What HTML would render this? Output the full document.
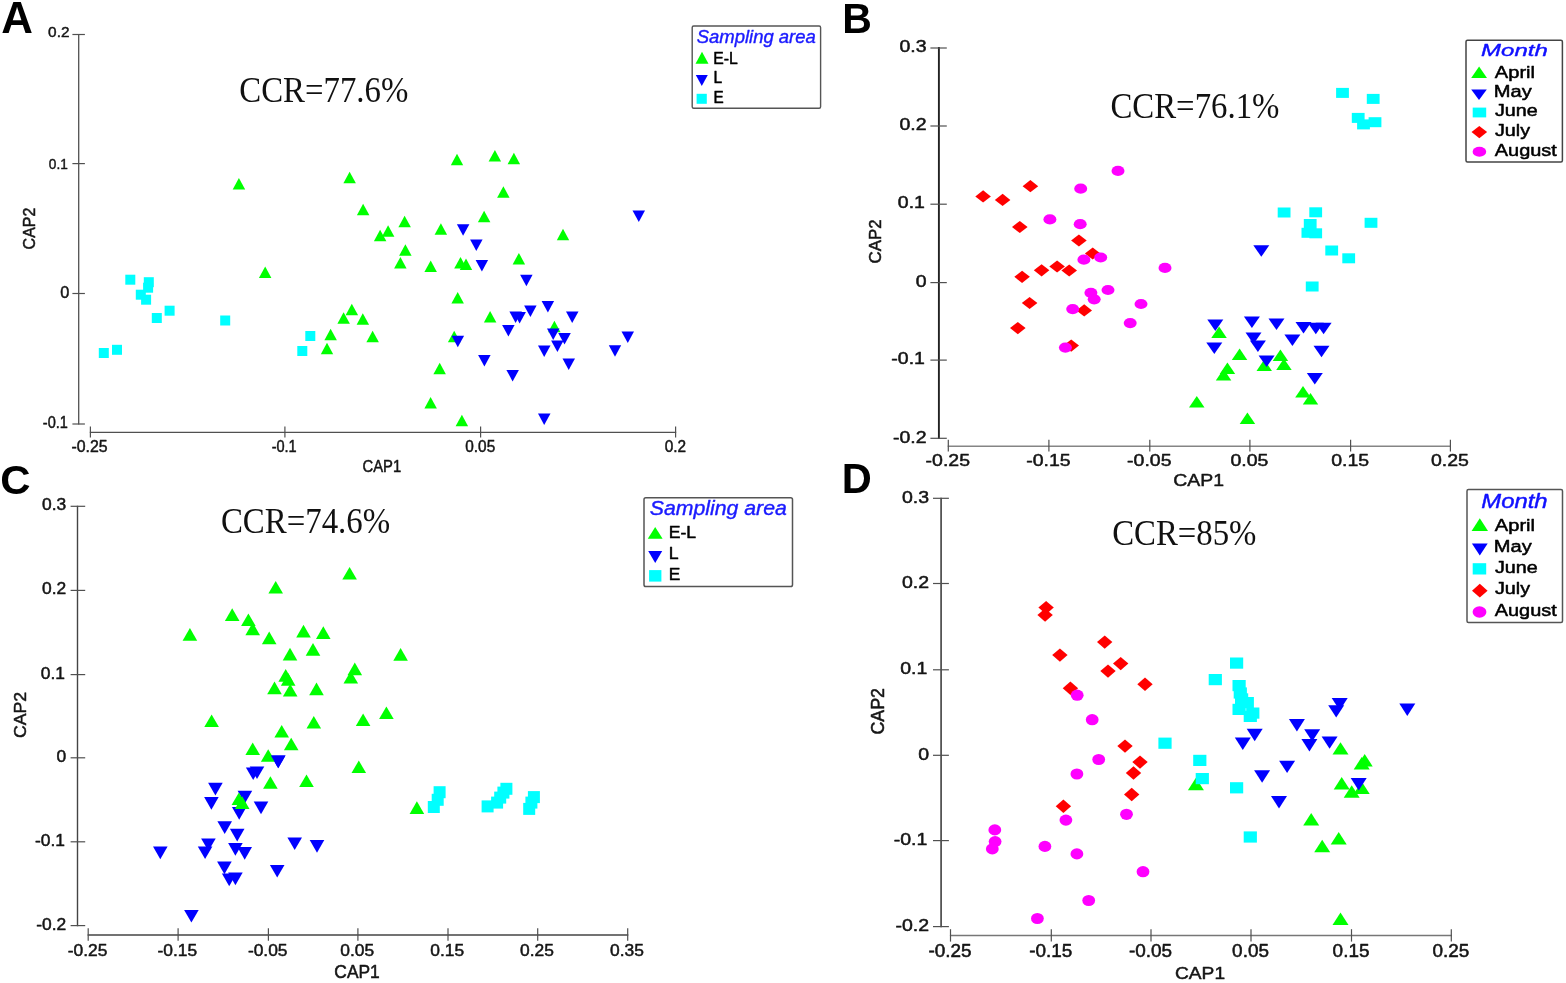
<!DOCTYPE html>
<html lang="en"><head><meta charset="utf-8"><title>CAP ordination plots</title>
<style>html,body{margin:0;padding:0;background:#fff}svg{display:block}</style></head><body>
<svg width="1566" height="983" viewBox="0 0 1566 983">
<rect width="1566" height="983" fill="#fff"/>
<g id="panelA">
<text font-family='"Liberation Sans", Arial, sans-serif' font-size="42" fill="#000" transform="translate(1.20 32.70) scale(1.0448 1.0459)" font-weight="bold">A</text>
<line x1="78.7" y1="34.0" x2="78.7" y2="424.5" stroke="#505050" stroke-width="1.3"/>
<line x1="72.4" y1="34.5" x2="84.9" y2="34.5" stroke="#505050" stroke-width="1.2"/>
<text font-family='"Liberation Sans", Arial, sans-serif' font-size="15" fill="#151515" transform="translate(48.08 37.00) scale(1.0256 1.0323)" stroke="#151515" stroke-width="0.45" stroke-linejoin="round">0.2</text>
<line x1="72.4" y1="163.6" x2="84.9" y2="163.6" stroke="#505050" stroke-width="1.2"/>
<text font-family='"Liberation Sans", Arial, sans-serif' font-size="15" fill="#151515" transform="translate(48.85 168.70) scale(0.9111 1.0323)" stroke="#151515" stroke-width="0.45" stroke-linejoin="round">0.1</text>
<line x1="72.4" y1="293.5" x2="84.9" y2="293.5" stroke="#505050" stroke-width="1.2"/>
<text font-family='"Liberation Sans", Arial, sans-serif' font-size="15" fill="#151515" transform="translate(60.35 297.70) scale(1.0890 1.0418)" stroke="#151515" stroke-width="0.45" stroke-linejoin="round">0</text>
<line x1="72.4" y1="424.0" x2="84.9" y2="424.0" stroke="#505050" stroke-width="1.2"/>
<text font-family='"Liberation Sans", Arial, sans-serif' font-size="15" fill="#151515" transform="translate(42.85 427.60) scale(0.9693 1.0418)" stroke="#151515" stroke-width="0.45" stroke-linejoin="round">-0.1</text>
<line x1="89.8" y1="432.3" x2="676.2" y2="432.3" stroke="#505050" stroke-width="1.3"/>
<line x1="90.4" y1="426.4" x2="90.4" y2="437.6" stroke="#505050" stroke-width="1.2"/>
<text font-family='"Liberation Sans", Arial, sans-serif' font-size="15" fill="#151515" transform="translate(71.49 452.10) scale(1.0582 1.0514)" stroke="#151515" stroke-width="0.45" stroke-linejoin="round">-0.25</text>
<line x1="284.9" y1="426.4" x2="284.9" y2="437.6" stroke="#505050" stroke-width="1.2"/>
<text font-family='"Liberation Sans", Arial, sans-serif' font-size="15" fill="#151515" transform="translate(271.65 452.10) scale(0.9693 1.0514)" stroke="#151515" stroke-width="0.45" stroke-linejoin="round">-0.1</text>
<line x1="480.6" y1="426.4" x2="480.6" y2="437.6" stroke="#505050" stroke-width="1.2"/>
<text font-family='"Liberation Sans", Arial, sans-serif' font-size="15" fill="#151515" transform="translate(465.28 452.10) scale(1.0259 1.0514)" stroke="#151515" stroke-width="0.45" stroke-linejoin="round">0.05</text>
<line x1="675.6" y1="426.4" x2="675.6" y2="437.6" stroke="#505050" stroke-width="1.2"/>
<text font-family='"Liberation Sans", Arial, sans-serif' font-size="15" fill="#151515" transform="translate(664.78 452.10) scale(1.0256 1.0514)" stroke="#151515" stroke-width="0.45" stroke-linejoin="round">0.2</text>
<text font-family='"Liberation Sans", Arial, sans-serif' font-size="15" fill="#151515" transform="translate(362.46 472.10) scale(0.9897 1.0800)" stroke="#151515" stroke-width="0.45" stroke-linejoin="round">CAP1</text>
<text font-family='"Liberation Sans", Arial, sans-serif' font-size="15" fill="#151515" transform="translate(34.80 249.40) rotate(-90) scale(1.0651 1.1470)" stroke="#151515" stroke-width="0.45" stroke-linejoin="round">CAP2</text>
<text font-family='"Liberation Serif", "Times New Roman", serif' font-size="32" fill="#111" transform="translate(239.29 101.70) scale(1.0265 1.0996)">CCR=77.6%</text>
<rect x="125.3" y="274.7" width="10" height="10" fill="#00ffff"/>
<rect x="143.8" y="277.2" width="10" height="10" fill="#00ffff"/>
<rect x="143.1" y="282.7" width="10" height="10" fill="#00ffff"/>
<rect x="135.8" y="289.7" width="10" height="10" fill="#00ffff"/>
<rect x="141.1" y="294.7" width="10" height="10" fill="#00ffff"/>
<rect x="164.6" y="305.7" width="10" height="10" fill="#00ffff"/>
<rect x="151.8" y="313.0" width="10" height="10" fill="#00ffff"/>
<rect x="220.2" y="315.5" width="10" height="10" fill="#00ffff"/>
<rect x="305.3" y="331.0" width="10" height="10" fill="#00ffff"/>
<rect x="297.3" y="346.0" width="10" height="10" fill="#00ffff"/>
<rect x="112.0" y="344.8" width="10" height="10" fill="#00ffff"/>
<rect x="98.8" y="348.0" width="10" height="10" fill="#00ffff"/>
<polygon points="232.7,189.6 245.2,189.6 238.9,178.1" fill="#00ff00"/>
<polygon points="343.4,183.2 355.9,183.2 349.6,171.8" fill="#00ff00"/>
<polygon points="450.8,165.2 463.2,165.2 457.0,153.8" fill="#00ff00"/>
<polygon points="356.9,215.3 369.4,215.3 363.1,203.8" fill="#00ff00"/>
<polygon points="398.4,227.2 410.9,227.2 404.6,215.7" fill="#00ff00"/>
<polygon points="381.9,236.7 394.4,236.7 388.1,225.2" fill="#00ff00"/>
<polygon points="373.9,241.2 386.4,241.2 380.1,229.7" fill="#00ff00"/>
<polygon points="434.6,234.7 447.1,234.7 440.9,223.2" fill="#00ff00"/>
<polygon points="399.1,255.8 411.6,255.8 405.4,244.3" fill="#00ff00"/>
<polygon points="394.1,268.6 406.6,268.6 400.4,257.1" fill="#00ff00"/>
<polygon points="424.4,272.1 436.9,272.1 430.7,260.6" fill="#00ff00"/>
<polygon points="454.2,268.4 466.8,268.4 460.5,256.9" fill="#00ff00"/>
<polygon points="459.8,269.9 472.2,269.9 466.0,258.4" fill="#00ff00"/>
<polygon points="258.9,277.9 271.4,277.9 265.2,266.4" fill="#00ff00"/>
<polygon points="451.4,303.6 463.9,303.6 457.7,292.1" fill="#00ff00"/>
<polygon points="345.6,315.2 358.1,315.2 351.8,303.8" fill="#00ff00"/>
<polygon points="337.4,323.8 349.9,323.8 343.6,312.2" fill="#00ff00"/>
<polygon points="356.6,324.8 369.1,324.8 362.8,313.2" fill="#00ff00"/>
<polygon points="324.4,340.2 336.9,340.2 330.6,328.8" fill="#00ff00"/>
<polygon points="366.4,342.2 378.9,342.2 372.6,330.8" fill="#00ff00"/>
<polygon points="320.8,354.2 333.2,354.2 327.0,342.8" fill="#00ff00"/>
<polygon points="447.9,342.2 460.4,342.2 454.2,330.8" fill="#00ff00"/>
<polygon points="433.4,374.2 445.9,374.2 439.7,362.8" fill="#00ff00"/>
<polygon points="488.6,161.6 501.1,161.6 494.9,150.1" fill="#00ff00"/>
<polygon points="507.6,164.2 520.1,164.2 513.9,152.8" fill="#00ff00"/>
<polygon points="497.1,197.8 509.6,197.8 503.4,186.3" fill="#00ff00"/>
<polygon points="477.9,222.3 490.4,222.3 484.1,210.8" fill="#00ff00"/>
<polygon points="556.8,240.2 569.2,240.2 563.0,228.7" fill="#00ff00"/>
<polygon points="512.6,264.4 525.1,264.4 518.9,252.9" fill="#00ff00"/>
<polygon points="483.9,322.4 496.4,322.4 490.1,310.9" fill="#00ff00"/>
<polygon points="548.1,332.2 560.6,332.2 554.4,320.8" fill="#00ff00"/>
<polygon points="424.4,408.4 436.9,408.4 430.6,396.9" fill="#00ff00"/>
<polygon points="455.6,426.2 468.1,426.2 461.9,414.8" fill="#00ff00"/>
<polygon points="456.9,224.2 469.4,224.2 463.1,235.8" fill="#0000ff"/>
<polygon points="470.1,239.4 482.6,239.4 476.3,250.9" fill="#0000ff"/>
<polygon points="475.6,260.1 488.1,260.1 481.9,271.6" fill="#0000ff"/>
<polygon points="520.1,274.8 532.6,274.8 526.4,286.2" fill="#0000ff"/>
<polygon points="541.6,301.1 554.1,301.1 547.9,312.6" fill="#0000ff"/>
<polygon points="524.1,305.4 536.6,305.4 530.4,316.9" fill="#0000ff"/>
<polygon points="509.4,311.6 521.9,311.6 515.6,323.1" fill="#0000ff"/>
<polygon points="513.4,311.9 525.9,311.9 519.6,323.4" fill="#0000ff"/>
<polygon points="566.0,311.6 578.5,311.6 572.2,323.1" fill="#0000ff"/>
<polygon points="502.1,324.9 514.6,324.9 508.4,336.4" fill="#0000ff"/>
<polygon points="547.0,328.4 559.5,328.4 553.2,339.9" fill="#0000ff"/>
<polygon points="558.2,333.1 570.8,333.1 564.5,344.6" fill="#0000ff"/>
<polygon points="551.1,340.4 563.6,340.4 557.4,351.9" fill="#0000ff"/>
<polygon points="538.0,345.4 550.5,345.4 544.2,356.9" fill="#0000ff"/>
<polygon points="451.6,335.7 464.1,335.7 457.8,347.2" fill="#0000ff"/>
<polygon points="621.5,331.6 634.0,331.6 627.8,343.1" fill="#0000ff"/>
<polygon points="608.8,345.2 621.2,345.2 615.0,356.7" fill="#0000ff"/>
<polygon points="478.1,354.9 490.6,354.9 484.4,366.4" fill="#0000ff"/>
<polygon points="562.5,358.4 575.0,358.4 568.7,369.9" fill="#0000ff"/>
<polygon points="506.4,369.9 518.9,369.9 512.6,381.4" fill="#0000ff"/>
<polygon points="632.5,210.4 645.0,210.4 638.8,221.9" fill="#0000ff"/>
<polygon points="538.0,413.4 550.5,413.4 544.2,424.9" fill="#0000ff"/>
<rect x="692.2" y="26.0" width="128.4" height="82.2" rx="1.5" fill="#fff" stroke="#555" stroke-width="1.4"/>
<text font-family='"Liberation Sans", Arial, sans-serif' font-size="18" fill="#1a1aff" transform="translate(696.69 42.75) scale(1.0263 1.0613)" font-style="italic" stroke="#1a1aff" stroke-width="0.4" stroke-linejoin="round">Sampling area</text>
<polygon points="695.5,63.8 708.5,63.8 702.0,51.8" fill="#00ff00"/>
<text font-family='"Liberation Sans", Arial, sans-serif' font-size="15" fill="#000" transform="translate(713.30 63.50) scale(1.0509 1.0861)" stroke="#000" stroke-width="0.45" stroke-linejoin="round">E-L</text>
<polygon points="695.8,75.1 707.8,75.1 701.8,86.1" fill="#0000ff"/>
<text font-family='"Liberation Sans", Arial, sans-serif' font-size="15" fill="#000" transform="translate(713.41 82.50) scale(1.0455 1.0861)" stroke="#000" stroke-width="0.45" stroke-linejoin="round">L</text>
<rect x="696.6" y="93.8" width="10.2" height="10" fill="#00ffff"/>
<text font-family='"Liberation Sans", Arial, sans-serif' font-size="15" fill="#000" transform="translate(713.44 102.75) scale(1.0200 1.0909)" stroke="#000" stroke-width="0.45" stroke-linejoin="round">E</text>
</g>
<g id="panelB">
<text font-family='"Liberation Sans", Arial, sans-serif' font-size="42" fill="#000" transform="translate(842.23 32.50) scale(0.9758 0.9957)" font-weight="bold">B</text>
<line x1="938.9" y1="47.0" x2="938.9" y2="438.9" stroke="#222" stroke-width="1.9"/>
<line x1="930.4" y1="48.0" x2="946.8" y2="48.0" stroke="#505050" stroke-width="1.2"/>
<text font-family='"Liberation Sans", Arial, sans-serif' font-size="15" fill="#151515" transform="translate(926.50 52.20) scale(1.3000 1.0900)" text-anchor="end" stroke="#151515" stroke-width="0.45" stroke-linejoin="round">0.3</text>
<line x1="930.4" y1="126.0" x2="946.8" y2="126.0" stroke="#505050" stroke-width="1.2"/>
<text font-family='"Liberation Sans", Arial, sans-serif' font-size="15" fill="#151515" transform="translate(926.50 130.20) scale(1.3000 1.0900)" text-anchor="end" stroke="#151515" stroke-width="0.45" stroke-linejoin="round">0.2</text>
<line x1="930.4" y1="204.2" x2="946.8" y2="204.2" stroke="#505050" stroke-width="1.2"/>
<text font-family='"Liberation Sans", Arial, sans-serif' font-size="15" fill="#151515" transform="translate(924.90 208.40) scale(1.3000 1.0900)" text-anchor="end" stroke="#151515" stroke-width="0.45" stroke-linejoin="round">0.1</text>
<line x1="930.4" y1="282.6" x2="946.8" y2="282.6" stroke="#505050" stroke-width="1.2"/>
<text font-family='"Liberation Sans", Arial, sans-serif' font-size="15" fill="#151515" transform="translate(926.50 286.80) scale(1.3000 1.0900)" text-anchor="end" stroke="#151515" stroke-width="0.45" stroke-linejoin="round">0</text>
<line x1="930.4" y1="360.1" x2="946.8" y2="360.1" stroke="#505050" stroke-width="1.2"/>
<text font-family='"Liberation Sans", Arial, sans-serif' font-size="15" fill="#151515" transform="translate(924.90 364.30) scale(1.3000 1.0900)" text-anchor="end" stroke="#151515" stroke-width="0.45" stroke-linejoin="round">-0.1</text>
<line x1="930.4" y1="438.3" x2="946.8" y2="438.3" stroke="#505050" stroke-width="1.2"/>
<text font-family='"Liberation Sans", Arial, sans-serif' font-size="15" fill="#151515" transform="translate(926.50 442.50) scale(1.3000 1.0900)" text-anchor="end" stroke="#151515" stroke-width="0.45" stroke-linejoin="round">-0.2</text>
<line x1="947.7" y1="446.2" x2="1451.0" y2="446.2" stroke="#858585" stroke-width="1.6"/>
<line x1="948.3" y1="439.8" x2="948.3" y2="451.6" stroke="#505050" stroke-width="1.2"/>
<text font-family='"Liberation Sans", Arial, sans-serif' font-size="15" fill="#151515" transform="translate(947.80 465.90) scale(1.3000 1.0900)" text-anchor="middle" stroke="#151515" stroke-width="0.45" stroke-linejoin="round">-0.25</text>
<line x1="1048.9" y1="439.8" x2="1048.9" y2="451.6" stroke="#505050" stroke-width="1.2"/>
<text font-family='"Liberation Sans", Arial, sans-serif' font-size="15" fill="#151515" transform="translate(1048.40 465.90) scale(1.3000 1.0900)" text-anchor="middle" stroke="#151515" stroke-width="0.45" stroke-linejoin="round">-0.15</text>
<line x1="1149.8" y1="439.8" x2="1149.8" y2="451.6" stroke="#505050" stroke-width="1.2"/>
<text font-family='"Liberation Sans", Arial, sans-serif' font-size="15" fill="#151515" transform="translate(1149.30 465.90) scale(1.3000 1.0900)" text-anchor="middle" stroke="#151515" stroke-width="0.45" stroke-linejoin="round">-0.05</text>
<line x1="1249.9" y1="439.8" x2="1249.9" y2="451.6" stroke="#505050" stroke-width="1.2"/>
<text font-family='"Liberation Sans", Arial, sans-serif' font-size="15" fill="#151515" transform="translate(1249.40 465.90) scale(1.3000 1.0900)" text-anchor="middle" stroke="#151515" stroke-width="0.45" stroke-linejoin="round">0.05</text>
<line x1="1350.6" y1="439.8" x2="1350.6" y2="451.6" stroke="#505050" stroke-width="1.2"/>
<text font-family='"Liberation Sans", Arial, sans-serif' font-size="15" fill="#151515" transform="translate(1350.10 465.90) scale(1.3000 1.0900)" text-anchor="middle" stroke="#151515" stroke-width="0.45" stroke-linejoin="round">0.15</text>
<line x1="1450.4" y1="439.8" x2="1450.4" y2="451.6" stroke="#505050" stroke-width="1.2"/>
<text font-family='"Liberation Sans", Arial, sans-serif' font-size="15" fill="#151515" transform="translate(1449.90 465.90) scale(1.3000 1.0900)" text-anchor="middle" stroke="#151515" stroke-width="0.45" stroke-linejoin="round">0.25</text>
<text font-family='"Liberation Sans", Arial, sans-serif' font-size="15" fill="#151515" transform="translate(1173.23 486.30) scale(1.2949 1.0800)" stroke="#151515" stroke-width="0.45" stroke-linejoin="round">CAP1</text>
<text font-family='"Liberation Sans", Arial, sans-serif' font-size="15" fill="#151515" transform="translate(881.10 263.44) rotate(-90) scale(1.1235 1.1565)" stroke="#151515" stroke-width="0.45" stroke-linejoin="round">CAP2</text>
<text font-family='"Liberation Serif", "Times New Roman", serif' font-size="32" fill="#111" transform="translate(1110.39 118.20) scale(1.0265 1.1043)">CCR=76.1%</text>
<polygon points="1211.3,337.9 1226.8,337.9 1219.1,326.4" fill="#00ff00"/>
<polygon points="1231.8,360.1 1247.3,360.1 1239.6,348.6" fill="#00ff00"/>
<polygon points="1272.7,361.1 1288.2,361.1 1280.4,349.6" fill="#00ff00"/>
<polygon points="1276.2,370.1 1291.7,370.1 1283.9,358.6" fill="#00ff00"/>
<polygon points="1256.5,371.1 1272.0,371.1 1264.2,359.6" fill="#00ff00"/>
<polygon points="1219.7,373.9 1235.2,373.9 1227.4,362.4" fill="#00ff00"/>
<polygon points="1215.8,380.4 1231.3,380.4 1223.6,368.9" fill="#00ff00"/>
<polygon points="1295.2,397.4 1310.8,397.4 1303.0,385.9" fill="#00ff00"/>
<polygon points="1302.8,404.4 1318.2,404.4 1310.5,392.9" fill="#00ff00"/>
<polygon points="1189.0,407.4 1204.5,407.4 1196.8,395.9" fill="#00ff00"/>
<polygon points="1239.7,423.9 1255.2,423.9 1247.4,412.4" fill="#00ff00"/>
<rect x="1336.1" y="87.9" width="12.8" height="10" fill="#00ffff"/>
<rect x="1366.8" y="93.9" width="12.8" height="10" fill="#00ffff"/>
<rect x="1351.8" y="112.9" width="12.8" height="10" fill="#00ffff"/>
<rect x="1357.1" y="119.4" width="12.8" height="10" fill="#00ffff"/>
<rect x="1368.6" y="117.2" width="12.8" height="10" fill="#00ffff"/>
<rect x="1277.7" y="207.5" width="12.8" height="10" fill="#00ffff"/>
<rect x="1309.3" y="207.3" width="12.8" height="10" fill="#00ffff"/>
<rect x="1303.8" y="219.0" width="12.8" height="10" fill="#00ffff"/>
<rect x="1301.5" y="227.8" width="12.8" height="10" fill="#00ffff"/>
<rect x="1309.3" y="228.3" width="12.8" height="10" fill="#00ffff"/>
<rect x="1364.6" y="217.8" width="12.8" height="10" fill="#00ffff"/>
<rect x="1325.3" y="245.5" width="12.8" height="10" fill="#00ffff"/>
<rect x="1342.3" y="253.3" width="12.8" height="10" fill="#00ffff"/>
<rect x="1305.8" y="281.5" width="12.8" height="10" fill="#00ffff"/>
<polygon points="1253.3,245.2 1269.3,245.2 1261.3,256.8" fill="#0000ff"/>
<polygon points="1207.3,319.4 1223.3,319.4 1215.3,330.9" fill="#0000ff"/>
<polygon points="1243.9,316.6 1259.9,316.6 1251.9,328.1" fill="#0000ff"/>
<polygon points="1268.5,318.6 1284.5,318.6 1276.5,330.1" fill="#0000ff"/>
<polygon points="1295.5,321.9 1311.5,321.9 1303.5,333.4" fill="#0000ff"/>
<polygon points="1307.8,322.8 1323.8,322.8 1315.8,334.2" fill="#0000ff"/>
<polygon points="1315.6,322.8 1331.6,322.8 1323.6,334.2" fill="#0000ff"/>
<polygon points="1245.5,332.6 1261.5,332.6 1253.5,344.1" fill="#0000ff"/>
<polygon points="1249.9,340.6 1265.9,340.6 1257.9,352.1" fill="#0000ff"/>
<polygon points="1284.4,334.4 1300.4,334.4 1292.4,345.9" fill="#0000ff"/>
<polygon points="1206.3,342.6 1222.3,342.6 1214.3,354.1" fill="#0000ff"/>
<polygon points="1313.5,345.8 1329.5,345.8 1321.5,357.2" fill="#0000ff"/>
<polygon points="1258.6,355.6 1274.6,355.6 1266.6,367.1" fill="#0000ff"/>
<polygon points="1306.8,373.1 1322.8,373.1 1314.8,384.6" fill="#0000ff"/>
<polygon points="975.3,196.4 983.1,190.3 990.9,196.4 983.1,202.5" fill="#ff0000"/>
<polygon points="994.8,199.9 1002.6,193.8 1010.4,199.9 1002.6,206.0" fill="#ff0000"/>
<polygon points="1022.6,186.2 1030.4,180.1 1038.2,186.2 1030.4,192.3" fill="#ff0000"/>
<polygon points="1012.0,227.0 1019.8,220.9 1027.6,227.0 1019.8,233.1" fill="#ff0000"/>
<polygon points="1071.1,240.5 1078.9,234.4 1086.7,240.5 1078.9,246.6" fill="#ff0000"/>
<polygon points="1084.9,253.5 1092.7,247.4 1100.5,253.5 1092.7,259.6" fill="#ff0000"/>
<polygon points="1049.3,266.5 1057.1,260.4 1064.9,266.5 1057.1,272.6" fill="#ff0000"/>
<polygon points="1033.8,270.3 1041.6,264.2 1049.4,270.3 1041.6,276.4" fill="#ff0000"/>
<polygon points="1061.4,270.5 1069.2,264.4 1077.0,270.5 1069.2,276.6" fill="#ff0000"/>
<polygon points="1014.3,276.8 1022.1,270.7 1029.9,276.8 1022.1,282.9" fill="#ff0000"/>
<polygon points="1021.8,303.0 1029.6,296.9 1037.4,303.0 1029.6,309.1" fill="#ff0000"/>
<polygon points="1076.4,310.4 1084.2,304.3 1092.0,310.4 1084.2,316.5" fill="#ff0000"/>
<polygon points="1010.0,328.1 1017.8,322.0 1025.6,328.1 1017.8,334.2" fill="#ff0000"/>
<polygon points="1063.4,345.6 1071.2,339.5 1079.0,345.6 1071.2,351.7" fill="#ff0000"/>
<ellipse cx="1118.0" cy="170.9" rx="6.5" ry="5.1" fill="#ff00ff"/>
<ellipse cx="1080.7" cy="188.7" rx="6.5" ry="5.1" fill="#ff00ff"/>
<ellipse cx="1049.9" cy="219.4" rx="6.5" ry="5.1" fill="#ff00ff"/>
<ellipse cx="1080.2" cy="224.2" rx="6.5" ry="5.1" fill="#ff00ff"/>
<ellipse cx="1083.9" cy="259.7" rx="6.5" ry="5.1" fill="#ff00ff"/>
<ellipse cx="1100.7" cy="257.5" rx="6.5" ry="5.1" fill="#ff00ff"/>
<ellipse cx="1165.0" cy="267.9" rx="6.5" ry="5.1" fill="#ff00ff"/>
<ellipse cx="1108.0" cy="290.0" rx="6.5" ry="5.1" fill="#ff00ff"/>
<ellipse cx="1090.9" cy="292.8" rx="6.5" ry="5.1" fill="#ff00ff"/>
<ellipse cx="1094.2" cy="299.3" rx="6.5" ry="5.1" fill="#ff00ff"/>
<ellipse cx="1141.0" cy="304.0" rx="6.5" ry="5.1" fill="#ff00ff"/>
<ellipse cx="1072.7" cy="309.1" rx="6.5" ry="5.1" fill="#ff00ff"/>
<ellipse cx="1130.2" cy="323.1" rx="6.5" ry="5.1" fill="#ff00ff"/>
<ellipse cx="1065.4" cy="347.6" rx="6.5" ry="5.1" fill="#ff00ff"/>
<rect x="1466.0" y="40.3" width="96.4" height="121.7" rx="1.5" fill="#fff" stroke="#444" stroke-width="1.5"/>
<text font-family='"Liberation Sans", Arial, sans-serif' font-size="17" fill="#1010ff" transform="translate(1481.08 56.40) scale(1.4105 1.0223)" font-style="italic" stroke="#1010ff" stroke-width="0.4" stroke-linejoin="round">Month</text>
<text font-family='"Liberation Sans", Arial, sans-serif' font-size="15" fill="#000" transform="translate(1494.85 77.50) scale(1.3402 1.0700)" stroke="#000" stroke-width="0.45" stroke-linejoin="round">April</text>
<text font-family='"Liberation Sans", Arial, sans-serif' font-size="15" fill="#000" transform="translate(1493.74 96.60) scale(1.3407 1.0700)" stroke="#000" stroke-width="0.45" stroke-linejoin="round">May</text>
<text font-family='"Liberation Sans", Arial, sans-serif' font-size="15" fill="#000" transform="translate(1494.90 116.40) scale(1.3144 1.0700)" stroke="#000" stroke-width="0.45" stroke-linejoin="round">June</text>
<text font-family='"Liberation Sans", Arial, sans-serif' font-size="15" fill="#000" transform="translate(1494.90 135.70) scale(1.3182 1.0700)" stroke="#000" stroke-width="0.45" stroke-linejoin="round">July</text>
<text font-family='"Liberation Sans", Arial, sans-serif' font-size="15" fill="#000" transform="translate(1494.75 155.60) scale(1.3301 1.0700)" stroke="#000" stroke-width="0.45" stroke-linejoin="round">August</text>
<polygon points="1471.2,78.0 1487.0,78.0 1479.1,66.4" fill="#00ff00"/>
<polygon points="1471.2,89.5 1486.8,89.5 1479.0,100.1" fill="#0000ff"/>
<rect x="1472.7" y="107.6" width="13.5" height="9.8" fill="#00ffff"/>
<polygon points="1471.5,132.1 1479.3,125.9 1487.1,132.1 1479.3,138.3" fill="#ff0000"/>
<ellipse cx="1479.4" cy="151.7" rx="6.8" ry="5.0" fill="#ff00ff"/>
</g>
<g id="panelC">
<text font-family='"Liberation Sans", Arial, sans-serif' font-size="42" fill="#000" transform="translate(0.32 494.20) scale(0.9996 0.9524)" font-weight="bold">C</text>
<line x1="77.5" y1="505.8" x2="77.5" y2="926.2" stroke="#444" stroke-width="1.4"/>
<line x1="70.6" y1="506.3" x2="85.2" y2="506.3" stroke="#505050" stroke-width="1.2"/>
<text font-family='"Liberation Sans", Arial, sans-serif' font-size="15" fill="#151515" transform="translate(66.30 510.30) scale(1.1600 1.1200)" text-anchor="end" stroke="#151515" stroke-width="0.45" stroke-linejoin="round">0.3</text>
<line x1="70.6" y1="590.4" x2="85.2" y2="590.4" stroke="#505050" stroke-width="1.2"/>
<text font-family='"Liberation Sans", Arial, sans-serif' font-size="15" fill="#151515" transform="translate(66.30 594.40) scale(1.1600 1.1200)" text-anchor="end" stroke="#151515" stroke-width="0.45" stroke-linejoin="round">0.2</text>
<line x1="70.6" y1="674.6" x2="85.2" y2="674.6" stroke="#505050" stroke-width="1.2"/>
<text font-family='"Liberation Sans", Arial, sans-serif' font-size="15" fill="#151515" transform="translate(64.90 678.60) scale(1.1600 1.1200)" text-anchor="end" stroke="#151515" stroke-width="0.45" stroke-linejoin="round">0.1</text>
<line x1="70.6" y1="757.8" x2="85.2" y2="757.8" stroke="#505050" stroke-width="1.2"/>
<text font-family='"Liberation Sans", Arial, sans-serif' font-size="15" fill="#151515" transform="translate(66.30 761.80) scale(1.1600 1.1200)" text-anchor="end" stroke="#151515" stroke-width="0.45" stroke-linejoin="round">0</text>
<line x1="70.6" y1="841.8" x2="85.2" y2="841.8" stroke="#505050" stroke-width="1.2"/>
<text font-family='"Liberation Sans", Arial, sans-serif' font-size="15" fill="#151515" transform="translate(64.90 845.80) scale(1.1600 1.1200)" text-anchor="end" stroke="#151515" stroke-width="0.45" stroke-linejoin="round">-0.1</text>
<line x1="70.6" y1="925.6" x2="85.2" y2="925.6" stroke="#505050" stroke-width="1.2"/>
<text font-family='"Liberation Sans", Arial, sans-serif' font-size="15" fill="#151515" transform="translate(66.30 929.60) scale(1.1600 1.1200)" text-anchor="end" stroke="#151515" stroke-width="0.45" stroke-linejoin="round">-0.2</text>
<line x1="87.6" y1="935.0" x2="628.3" y2="935.0" stroke="#444" stroke-width="1.6"/>
<line x1="88.2" y1="928.2" x2="88.2" y2="940.8" stroke="#505050" stroke-width="1.2"/>
<text font-family='"Liberation Sans", Arial, sans-serif' font-size="15" fill="#151515" transform="translate(87.50 955.70) scale(1.1600 1.1200)" text-anchor="middle" stroke="#151515" stroke-width="0.45" stroke-linejoin="round">-0.25</text>
<line x1="178.1" y1="928.2" x2="178.1" y2="940.8" stroke="#505050" stroke-width="1.2"/>
<text font-family='"Liberation Sans", Arial, sans-serif' font-size="15" fill="#151515" transform="translate(177.40 955.70) scale(1.1600 1.1200)" text-anchor="middle" stroke="#151515" stroke-width="0.45" stroke-linejoin="round">-0.15</text>
<line x1="268.4" y1="928.2" x2="268.4" y2="940.8" stroke="#505050" stroke-width="1.2"/>
<text font-family='"Liberation Sans", Arial, sans-serif' font-size="15" fill="#151515" transform="translate(267.70 955.70) scale(1.1600 1.1200)" text-anchor="middle" stroke="#151515" stroke-width="0.45" stroke-linejoin="round">-0.05</text>
<line x1="357.9" y1="928.2" x2="357.9" y2="940.8" stroke="#505050" stroke-width="1.2"/>
<text font-family='"Liberation Sans", Arial, sans-serif' font-size="15" fill="#151515" transform="translate(357.20 955.70) scale(1.1600 1.1200)" text-anchor="middle" stroke="#151515" stroke-width="0.45" stroke-linejoin="round">0.05</text>
<line x1="448.0" y1="928.2" x2="448.0" y2="940.8" stroke="#505050" stroke-width="1.2"/>
<text font-family='"Liberation Sans", Arial, sans-serif' font-size="15" fill="#151515" transform="translate(447.30 955.70) scale(1.1600 1.1200)" text-anchor="middle" stroke="#151515" stroke-width="0.45" stroke-linejoin="round">0.15</text>
<line x1="537.7" y1="928.2" x2="537.7" y2="940.8" stroke="#505050" stroke-width="1.2"/>
<text font-family='"Liberation Sans", Arial, sans-serif' font-size="15" fill="#151515" transform="translate(537.00 955.70) scale(1.1600 1.1200)" text-anchor="middle" stroke="#151515" stroke-width="0.45" stroke-linejoin="round">0.25</text>
<line x1="627.7" y1="928.2" x2="627.7" y2="940.8" stroke="#505050" stroke-width="1.2"/>
<text font-family='"Liberation Sans", Arial, sans-serif' font-size="15" fill="#151515" transform="translate(627.00 955.70) scale(1.1600 1.1200)" text-anchor="middle" stroke="#151515" stroke-width="0.45" stroke-linejoin="round">0.35</text>
<text font-family='"Liberation Sans", Arial, sans-serif' font-size="15" fill="#151515" transform="translate(334.33 978.00) scale(1.1595 1.1661)" stroke="#151515" stroke-width="0.45" stroke-linejoin="round">CAP1</text>
<text font-family='"Liberation Sans", Arial, sans-serif' font-size="15" fill="#151515" transform="translate(25.50 738.08) rotate(-90) scale(1.1766 1.1087)" stroke="#151515" stroke-width="0.45" stroke-linejoin="round">CAP2</text>
<text font-family='"Liberation Serif", "Times New Roman", serif' font-size="32" fill="#111" transform="translate(220.88 532.70) scale(1.0283 1.1043)">CCR=74.6%</text>
<rect x="433.6" y="786.2" width="12" height="12" fill="#00ffff"/>
<rect x="431.7" y="793.8" width="12" height="12" fill="#00ffff"/>
<rect x="427.8" y="801.0" width="12" height="12" fill="#00ffff"/>
<rect x="500.4" y="782.8" width="12" height="12" fill="#00ffff"/>
<rect x="497.4" y="786.6" width="12" height="12" fill="#00ffff"/>
<rect x="494.2" y="791.6" width="12" height="12" fill="#00ffff"/>
<rect x="491.1" y="796.6" width="12" height="12" fill="#00ffff"/>
<rect x="481.6" y="800.4" width="12" height="12" fill="#00ffff"/>
<rect x="527.9" y="791.1" width="12" height="12" fill="#00ffff"/>
<rect x="525.4" y="796.6" width="12" height="12" fill="#00ffff"/>
<rect x="523.2" y="802.9" width="12" height="12" fill="#00ffff"/>
<polygon points="270.9,755.6 285.5,755.6 278.2,768.2" fill="#0000ff"/>
<polygon points="249.7,766.4 264.3,766.4 257.0,779.0" fill="#0000ff"/>
<polygon points="245.9,767.5 260.5,767.5 253.2,780.1" fill="#0000ff"/>
<polygon points="208.1,782.8 222.7,782.8 215.4,795.4" fill="#0000ff"/>
<polygon points="204.1,797.1 218.7,797.1 211.4,809.7" fill="#0000ff"/>
<polygon points="237.6,790.8 252.2,790.8 244.9,803.4" fill="#0000ff"/>
<polygon points="253.7,801.6 268.3,801.6 261.0,814.2" fill="#0000ff"/>
<polygon points="231.9,807.1 246.5,807.1 239.2,819.7" fill="#0000ff"/>
<polygon points="217.4,821.3 232.0,821.3 224.7,833.9" fill="#0000ff"/>
<polygon points="229.9,828.8 244.5,828.8 237.2,841.4" fill="#0000ff"/>
<polygon points="287.4,837.4 302.0,837.4 294.7,850.0" fill="#0000ff"/>
<polygon points="309.7,840.1 324.3,840.1 317.0,852.7" fill="#0000ff"/>
<polygon points="201.1,838.4 215.7,838.4 208.4,851.0" fill="#0000ff"/>
<polygon points="197.8,846.4 212.4,846.4 205.1,859.0" fill="#0000ff"/>
<polygon points="153.0,846.6 167.6,846.6 160.3,859.2" fill="#0000ff"/>
<polygon points="228.1,843.1 242.7,843.1 235.4,855.7" fill="#0000ff"/>
<polygon points="237.4,847.1 252.0,847.1 244.7,859.7" fill="#0000ff"/>
<polygon points="217.1,861.6 231.7,861.6 224.4,874.2" fill="#0000ff"/>
<polygon points="269.9,864.9 284.5,864.9 277.2,877.5" fill="#0000ff"/>
<polygon points="221.9,873.6 236.5,873.6 229.2,886.2" fill="#0000ff"/>
<polygon points="228.1,872.6 242.7,872.6 235.4,885.2" fill="#0000ff"/>
<polygon points="184.1,909.9 198.7,909.9 191.4,922.5" fill="#0000ff"/>
<polygon points="342.3,579.6 356.9,579.6 349.6,567.0" fill="#00ff00"/>
<polygon points="268.4,593.6 283.0,593.6 275.7,581.0" fill="#00ff00"/>
<polygon points="224.9,620.9 239.5,620.9 232.2,608.3" fill="#00ff00"/>
<polygon points="241.1,626.1 255.7,626.1 248.4,613.5" fill="#00ff00"/>
<polygon points="245.4,635.2 260.0,635.2 252.7,622.6" fill="#00ff00"/>
<polygon points="182.6,640.7 197.2,640.7 189.9,628.1" fill="#00ff00"/>
<polygon points="261.9,644.2 276.5,644.2 269.2,631.6" fill="#00ff00"/>
<polygon points="296.2,637.4 310.8,637.4 303.5,624.8" fill="#00ff00"/>
<polygon points="316.0,638.9 330.6,638.9 323.3,626.3" fill="#00ff00"/>
<polygon points="305.7,655.7 320.3,655.7 313.0,643.1" fill="#00ff00"/>
<polygon points="282.7,660.4 297.3,660.4 290.0,647.8" fill="#00ff00"/>
<polygon points="393.3,660.7 407.9,660.7 400.6,648.1" fill="#00ff00"/>
<polygon points="347.5,675.2 362.1,675.2 354.8,662.6" fill="#00ff00"/>
<polygon points="343.5,683.5 358.1,683.5 350.8,670.9" fill="#00ff00"/>
<polygon points="278.4,681.7 293.0,681.7 285.7,669.1" fill="#00ff00"/>
<polygon points="280.9,685.7 295.5,685.7 288.2,673.1" fill="#00ff00"/>
<polygon points="267.2,694.2 281.8,694.2 274.5,681.6" fill="#00ff00"/>
<polygon points="282.9,696.5 297.5,696.5 290.2,683.9" fill="#00ff00"/>
<polygon points="309.2,695.2 323.8,695.2 316.5,682.6" fill="#00ff00"/>
<polygon points="379.1,719.0 393.7,719.0 386.4,706.4" fill="#00ff00"/>
<polygon points="355.8,726.0 370.4,726.0 363.1,713.4" fill="#00ff00"/>
<polygon points="204.3,727.0 218.9,727.0 211.6,714.4" fill="#00ff00"/>
<polygon points="306.5,728.5 321.1,728.5 313.8,715.9" fill="#00ff00"/>
<polygon points="274.4,737.5 289.0,737.5 281.7,724.9" fill="#00ff00"/>
<polygon points="283.9,750.3 298.5,750.3 291.2,737.7" fill="#00ff00"/>
<polygon points="245.4,755.1 260.0,755.1 252.7,742.5" fill="#00ff00"/>
<polygon points="260.9,761.8 275.5,761.8 268.2,749.2" fill="#00ff00"/>
<polygon points="351.5,773.1 366.1,773.1 358.8,760.5" fill="#00ff00"/>
<polygon points="263.1,788.8 277.7,788.8 270.4,776.2" fill="#00ff00"/>
<polygon points="299.2,787.1 313.8,787.1 306.5,774.5" fill="#00ff00"/>
<polygon points="231.6,805.1 246.2,805.1 238.9,792.5" fill="#00ff00"/>
<polygon points="234.9,808.9 249.5,808.9 242.2,796.3" fill="#00ff00"/>
<polygon points="409.6,813.9 424.2,813.9 416.9,801.3" fill="#00ff00"/>
<polygon points="270.9,755.6 285.5,755.6 278.2,768.2" fill="#0000ff"/>
<rect x="644.0" y="497.8" width="148.5" height="88.8" rx="1.8" fill="#fff" stroke="#555" stroke-width="1.5"/>
<text font-family='"Liberation Sans", Arial, sans-serif' font-size="20" fill="#1a1aff" transform="translate(649.82 515.30) scale(1.0630 1.0000)" font-style="italic" stroke="#1a1aff" stroke-width="0.4" stroke-linejoin="round">Sampling area</text>
<polygon points="647.8,538.7 662.6,538.7 655.2,526.9" fill="#00ff00"/>
<text font-family='"Liberation Sans", Arial, sans-serif' font-size="15" fill="#000" transform="translate(668.64 538.00) scale(1.1759 1.1345)" stroke="#000" stroke-width="0.45" stroke-linejoin="round">E-L</text>
<polygon points="648.2,551.1 662.2,551.1 655.2,562.9" fill="#0000ff"/>
<text font-family='"Liberation Sans", Arial, sans-serif' font-size="15" fill="#000" transform="translate(668.74 558.90) scale(1.1818 1.1345)" stroke="#000" stroke-width="0.45" stroke-linejoin="round">L</text>
<rect x="649.1" y="570.1" width="12.3" height="11.5" fill="#00ffff"/>
<text font-family='"Liberation Sans", Arial, sans-serif' font-size="15" fill="#000" transform="translate(668.77 580.10) scale(1.1551 1.1345)" stroke="#000" stroke-width="0.45" stroke-linejoin="round">E</text>
</g>
<g id="panelD">
<text font-family='"Liberation Sans", Arial, sans-serif' font-size="42" fill="#000" transform="translate(841.69 493.10) scale(0.9913 0.9905)" font-weight="bold">D</text>
<line x1="941.1" y1="497.7" x2="941.1" y2="927.2" stroke="#555" stroke-width="1.8"/>
<line x1="933.0" y1="498.3" x2="948.9" y2="498.3" stroke="#505050" stroke-width="1.2"/>
<text font-family='"Liberation Sans", Arial, sans-serif' font-size="15" fill="#151515" transform="translate(929.00 502.70) scale(1.3000 1.1400)" text-anchor="end" stroke="#151515" stroke-width="0.45" stroke-linejoin="round">0.3</text>
<line x1="933.0" y1="583.5" x2="948.9" y2="583.5" stroke="#505050" stroke-width="1.2"/>
<text font-family='"Liberation Sans", Arial, sans-serif' font-size="15" fill="#151515" transform="translate(929.00 587.90) scale(1.3000 1.1400)" text-anchor="end" stroke="#151515" stroke-width="0.45" stroke-linejoin="round">0.2</text>
<line x1="933.0" y1="669.8" x2="948.9" y2="669.8" stroke="#505050" stroke-width="1.2"/>
<text font-family='"Liberation Sans", Arial, sans-serif' font-size="15" fill="#151515" transform="translate(927.30 674.20) scale(1.3000 1.1400)" text-anchor="end" stroke="#151515" stroke-width="0.45" stroke-linejoin="round">0.1</text>
<line x1="933.0" y1="755.3" x2="948.9" y2="755.3" stroke="#505050" stroke-width="1.2"/>
<text font-family='"Liberation Sans", Arial, sans-serif' font-size="15" fill="#151515" transform="translate(929.00 759.70) scale(1.3000 1.1400)" text-anchor="end" stroke="#151515" stroke-width="0.45" stroke-linejoin="round">0</text>
<line x1="933.0" y1="840.6" x2="948.9" y2="840.6" stroke="#505050" stroke-width="1.2"/>
<text font-family='"Liberation Sans", Arial, sans-serif' font-size="15" fill="#151515" transform="translate(927.30 845.00) scale(1.3000 1.1400)" text-anchor="end" stroke="#151515" stroke-width="0.45" stroke-linejoin="round">-0.1</text>
<line x1="933.0" y1="926.6" x2="948.9" y2="926.6" stroke="#505050" stroke-width="1.2"/>
<text font-family='"Liberation Sans", Arial, sans-serif' font-size="15" fill="#151515" transform="translate(929.00 931.00) scale(1.3000 1.1400)" text-anchor="end" stroke="#151515" stroke-width="0.45" stroke-linejoin="round">-0.2</text>
<line x1="949.9" y1="935.5" x2="1451.9" y2="935.5" stroke="#777" stroke-width="1.3"/>
<line x1="950.5" y1="929.2" x2="950.5" y2="941.6" stroke="#505050" stroke-width="1.2"/>
<text font-family='"Liberation Sans", Arial, sans-serif' font-size="15" fill="#151515" transform="translate(950.00 956.90) scale(1.2610 1.1900)" text-anchor="middle" stroke="#151515" stroke-width="0.45" stroke-linejoin="round">-0.25</text>
<line x1="1051.3" y1="929.2" x2="1051.3" y2="941.6" stroke="#505050" stroke-width="1.2"/>
<text font-family='"Liberation Sans", Arial, sans-serif' font-size="15" fill="#151515" transform="translate(1050.80 956.90) scale(1.2610 1.1900)" text-anchor="middle" stroke="#151515" stroke-width="0.45" stroke-linejoin="round">-0.15</text>
<line x1="1151.0" y1="929.2" x2="1151.0" y2="941.6" stroke="#505050" stroke-width="1.2"/>
<text font-family='"Liberation Sans", Arial, sans-serif' font-size="15" fill="#151515" transform="translate(1150.50 956.90) scale(1.2610 1.1900)" text-anchor="middle" stroke="#151515" stroke-width="0.45" stroke-linejoin="round">-0.05</text>
<line x1="1251.0" y1="929.2" x2="1251.0" y2="941.6" stroke="#505050" stroke-width="1.2"/>
<text font-family='"Liberation Sans", Arial, sans-serif' font-size="15" fill="#151515" transform="translate(1250.50 956.90) scale(1.2610 1.1900)" text-anchor="middle" stroke="#151515" stroke-width="0.45" stroke-linejoin="round">0.05</text>
<line x1="1351.5" y1="929.2" x2="1351.5" y2="941.6" stroke="#505050" stroke-width="1.2"/>
<text font-family='"Liberation Sans", Arial, sans-serif' font-size="15" fill="#151515" transform="translate(1351.00 956.90) scale(1.2610 1.1900)" text-anchor="middle" stroke="#151515" stroke-width="0.45" stroke-linejoin="round">0.15</text>
<line x1="1451.3" y1="929.2" x2="1451.3" y2="941.6" stroke="#505050" stroke-width="1.2"/>
<text font-family='"Liberation Sans", Arial, sans-serif' font-size="15" fill="#151515" transform="translate(1450.80 956.90) scale(1.2610 1.1900)" text-anchor="middle" stroke="#151515" stroke-width="0.45" stroke-linejoin="round">0.25</text>
<text font-family='"Liberation Sans", Arial, sans-serif' font-size="15" fill="#151515" transform="translate(1175.04 978.50) scale(1.2763 1.0705)" stroke="#151515" stroke-width="0.45" stroke-linejoin="round">CAP1</text>
<text font-family='"Liberation Sans", Arial, sans-serif' font-size="15" fill="#151515" transform="translate(883.60 734.49) rotate(-90) scale(1.1846 1.2139)" stroke="#151515" stroke-width="0.45" stroke-linejoin="round">CAP2</text>
<text font-family='"Liberation Serif", "Times New Roman", serif' font-size="32" fill="#111" transform="translate(1112.19 545.00) scale(1.0246 1.1043)">CCR=85%</text>
<polygon points="1187.9,790.2 1203.9,790.2 1195.9,777.8" fill="#00ff00"/>
<polygon points="1332.5,754.6 1348.5,754.6 1340.5,742.2" fill="#00ff00"/>
<polygon points="1356.7,766.4 1372.7,766.4 1364.7,754.0" fill="#00ff00"/>
<polygon points="1353.7,769.4 1369.7,769.4 1361.7,757.0" fill="#00ff00"/>
<polygon points="1333.7,789.4 1349.7,789.4 1341.7,777.0" fill="#00ff00"/>
<polygon points="1343.7,797.7 1359.7,797.7 1351.7,785.3" fill="#00ff00"/>
<polygon points="1353.7,793.9 1369.7,793.9 1361.7,781.5" fill="#00ff00"/>
<polygon points="1303.2,825.4 1319.2,825.4 1311.2,813.0" fill="#00ff00"/>
<polygon points="1330.7,844.5 1346.7,844.5 1338.7,832.1" fill="#00ff00"/>
<polygon points="1314.2,852.2 1330.2,852.2 1322.2,839.8" fill="#00ff00"/>
<polygon points="1332.5,924.9 1348.5,924.9 1340.5,912.5" fill="#00ff00"/>
<polygon points="1038.4,607.6 1046.1,600.9 1053.8,607.6 1046.1,614.3" fill="#ff0000"/>
<polygon points="1037.4,615.1 1045.1,608.4 1052.8,615.1 1045.1,621.8" fill="#ff0000"/>
<polygon points="1097.0,642.1 1104.7,635.4 1112.4,642.1 1104.7,648.8" fill="#ff0000"/>
<polygon points="1052.2,655.1 1059.9,648.4 1067.6,655.1 1059.9,661.8" fill="#ff0000"/>
<polygon points="1113.0,663.6 1120.7,656.9 1128.4,663.6 1120.7,670.3" fill="#ff0000"/>
<polygon points="1100.3,671.1 1108.0,664.4 1115.7,671.1 1108.0,677.8" fill="#ff0000"/>
<polygon points="1137.3,684.2 1145.0,677.5 1152.7,684.2 1145.0,690.9" fill="#ff0000"/>
<polygon points="1062.7,688.2 1070.4,681.5 1078.1,688.2 1070.4,694.9" fill="#ff0000"/>
<polygon points="1117.3,746.1 1125.0,739.4 1132.7,746.1 1125.0,752.8" fill="#ff0000"/>
<polygon points="1132.3,762.1 1140.0,755.4 1147.7,762.1 1140.0,768.8" fill="#ff0000"/>
<polygon points="1125.8,773.0 1133.5,766.3 1141.2,773.0 1133.5,779.7" fill="#ff0000"/>
<polygon points="1124.0,794.5 1131.7,787.8 1139.4,794.5 1131.7,801.2" fill="#ff0000"/>
<polygon points="1055.7,806.3 1063.4,799.6 1071.1,806.3 1063.4,813.0" fill="#ff0000"/>
<ellipse cx="1077.2" cy="695.2" rx="6.4" ry="5.6" fill="#ff00ff"/>
<ellipse cx="1092.2" cy="719.7" rx="6.4" ry="5.6" fill="#ff00ff"/>
<ellipse cx="1098.7" cy="759.5" rx="6.4" ry="5.6" fill="#ff00ff"/>
<ellipse cx="1076.9" cy="774.0" rx="6.4" ry="5.6" fill="#ff00ff"/>
<ellipse cx="1126.5" cy="814.3" rx="6.4" ry="5.6" fill="#ff00ff"/>
<ellipse cx="1065.9" cy="820.1" rx="6.4" ry="5.6" fill="#ff00ff"/>
<ellipse cx="994.8" cy="829.9" rx="6.4" ry="5.6" fill="#ff00ff"/>
<ellipse cx="995.1" cy="841.6" rx="6.4" ry="5.6" fill="#ff00ff"/>
<ellipse cx="992.3" cy="848.9" rx="6.4" ry="5.6" fill="#ff00ff"/>
<ellipse cx="1044.9" cy="846.4" rx="6.4" ry="5.6" fill="#ff00ff"/>
<ellipse cx="1076.9" cy="853.9" rx="6.4" ry="5.6" fill="#ff00ff"/>
<ellipse cx="1143.0" cy="871.7" rx="6.4" ry="5.6" fill="#ff00ff"/>
<ellipse cx="1088.7" cy="900.5" rx="6.4" ry="5.6" fill="#ff00ff"/>
<ellipse cx="1037.4" cy="918.5" rx="6.4" ry="5.6" fill="#ff00ff"/>
<polygon points="1331.7,698.0 1347.7,698.0 1339.7,710.4" fill="#0000ff"/>
<polygon points="1328.2,705.2 1344.2,705.2 1336.2,717.6" fill="#0000ff"/>
<polygon points="1399.3,703.5 1415.3,703.5 1407.3,715.9" fill="#0000ff"/>
<polygon points="1288.9,719.0 1304.9,719.0 1296.9,731.4" fill="#0000ff"/>
<polygon points="1246.7,728.8 1262.7,728.8 1254.7,741.2" fill="#0000ff"/>
<polygon points="1304.2,729.2 1320.2,729.2 1312.2,741.6" fill="#0000ff"/>
<polygon points="1234.8,737.5 1250.8,737.5 1242.8,749.9" fill="#0000ff"/>
<polygon points="1301.4,739.1 1317.4,739.1 1309.4,751.5" fill="#0000ff"/>
<polygon points="1321.6,736.4 1337.6,736.4 1329.6,748.8" fill="#0000ff"/>
<polygon points="1279.1,760.7 1295.1,760.7 1287.1,773.1" fill="#0000ff"/>
<polygon points="1254.1,770.3 1270.1,770.3 1262.1,782.7" fill="#0000ff"/>
<polygon points="1350.7,778.1 1366.7,778.1 1358.7,790.5" fill="#0000ff"/>
<polygon points="1271.0,796.1 1287.0,796.1 1279.0,808.5" fill="#0000ff"/>
<rect x="1230.0" y="657.5" width="13.2" height="11.2" fill="#00ffff"/>
<rect x="1208.7" y="674.0" width="13.2" height="11.2" fill="#00ffff"/>
<rect x="1232.5" y="680.0" width="13.2" height="11.2" fill="#00ffff"/>
<rect x="1233.7" y="687.4" width="13.2" height="11.2" fill="#00ffff"/>
<rect x="1235.0" y="693.3" width="13.2" height="11.2" fill="#00ffff"/>
<rect x="1240.7" y="697.0" width="13.2" height="11.2" fill="#00ffff"/>
<rect x="1232.5" y="703.8" width="13.2" height="11.2" fill="#00ffff"/>
<rect x="1246.2" y="707.5" width="13.2" height="11.2" fill="#00ffff"/>
<rect x="1243.7" y="710.8" width="13.2" height="11.2" fill="#00ffff"/>
<rect x="1158.4" y="737.6" width="13.2" height="11.2" fill="#00ffff"/>
<rect x="1193.2" y="754.8" width="13.2" height="11.2" fill="#00ffff"/>
<rect x="1195.7" y="773.0" width="13.2" height="11.2" fill="#00ffff"/>
<rect x="1230.0" y="782.2" width="13.2" height="11.2" fill="#00ffff"/>
<rect x="1243.7" y="831.4" width="13.2" height="11.2" fill="#00ffff"/>
<rect x="1467.0" y="489.4" width="95.5" height="133.2" rx="1.5" fill="#fff" stroke="#555" stroke-width="1.5"/>
<text font-family='"Liberation Sans", Arial, sans-serif' font-size="18" fill="#1010ff" transform="translate(1481.28 507.50) scale(1.3259 1.1111)" font-style="italic" stroke="#1010ff" stroke-width="0.4" stroke-linejoin="round">Month</text>
<text font-family='"Liberation Sans", Arial, sans-serif' font-size="15" fill="#000" transform="translate(1494.85 530.50) scale(1.3402 1.1500)" stroke="#000" stroke-width="0.45" stroke-linejoin="round">April</text>
<text font-family='"Liberation Sans", Arial, sans-serif' font-size="15" fill="#000" transform="translate(1493.74 551.60) scale(1.3407 1.1500)" stroke="#000" stroke-width="0.45" stroke-linejoin="round">May</text>
<text font-family='"Liberation Sans", Arial, sans-serif' font-size="15" fill="#000" transform="translate(1494.90 573.20) scale(1.3144 1.1500)" stroke="#000" stroke-width="0.45" stroke-linejoin="round">June</text>
<text font-family='"Liberation Sans", Arial, sans-serif' font-size="15" fill="#000" transform="translate(1494.90 594.40) scale(1.3182 1.1500)" stroke="#000" stroke-width="0.45" stroke-linejoin="round">July</text>
<text font-family='"Liberation Sans", Arial, sans-serif' font-size="15" fill="#000" transform="translate(1494.75 615.70) scale(1.3301 1.1500)" stroke="#000" stroke-width="0.45" stroke-linejoin="round">August</text>
<polygon points="1471.6,531.0 1488.0,531.0 1479.8,518.2" fill="#00ff00"/>
<polygon points="1471.9,543.6 1487.7,543.6 1479.8,555.4" fill="#0000ff"/>
<rect x="1472.7" y="563.2" width="13.5" height="11.3" fill="#00ffff"/>
<polygon points="1472.0,590.7 1479.8,583.8 1487.6,590.7 1479.8,597.6" fill="#ff0000"/>
<ellipse cx="1479.5" cy="612.0" rx="6.9" ry="5.65" fill="#ff00ff"/>
</g>
</svg></body></html>
